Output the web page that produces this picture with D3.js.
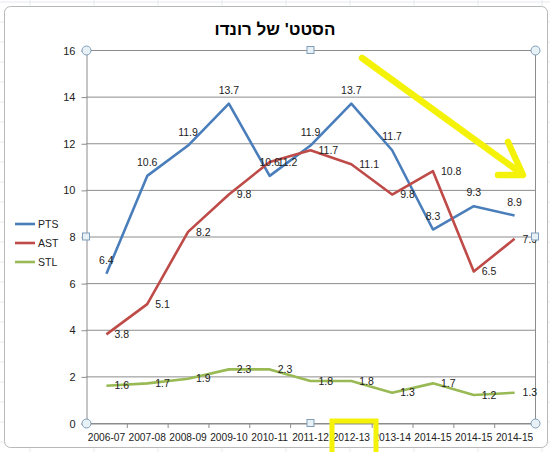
<!DOCTYPE html>
<html>
<head>
<meta charset="utf-8">
<script src="https://cdn.jsdelivr.net/npm/d3@7"></script>
<style>
html,body{margin:0;padding:0;background:#fff;}
svg{display:block;}
text{font-family:"Liberation Sans",Arial,sans-serif;}
</style>
</head>
<body>
<svg id="chart" width="550" height="452"></svg>
<script>
const title = "הסטט' של רונדו";
const categories = ["2006-07","2007-08","2008-09","2009-10","2010-11","2011-12","2012-13","2013-14","2014-15","2014-15","2014-15"];
const pts = [6.4,10.6,11.9,13.7,10.6,11.9,13.7,11.7,8.3,9.3,8.9];
const ast = [3.8,5.1,8.2,9.8,11.2,11.7,11.1,9.8,10.8,6.5,7.9];
const stl = [1.6,1.7,1.9,2.3,2.3,1.8,1.8,1.3,1.7,1.2,1.3];
const seriesNames = ["PTS","AST","STL"];
const seriesColors = ["#4a7ebb","#be4b48","#98b954"];
const yTicks = [0,2,4,6,8,10,12,14,16];

(function(){
const svg = d3.select("#chart");
const W = 550, H = 452;

// Excel-like background grid
const bg = svg.append("g");
bg.append("rect").attr("width",W).attr("height",H).attr("fill","#ffffff");
d3.range(0,W,64).forEach(xx=>bg.append("line").attr("x1",xx+30).attr("x2",xx+30).attr("y1",0).attr("y2",H).attr("stroke","#e6e9ee"));
d3.range(0,H,20).forEach(yy=>bg.append("line").attr("x1",0).attr("x2",W).attr("y1",yy+2).attr("y2",yy+2).attr("stroke","#e6e9ee"));

// chart area
svg.append("rect").attr("x",4.5).attr("y",6.5).attr("width",543).attr("height",441)
  .attr("rx",6).attr("fill","#fff").attr("stroke","#b8b8b8").attr("stroke-width",1);

const pl = 86, pr = 535, pt = 50, pb = 423;
const x = d3.scaleBand().domain(d3.range(categories.length)).range([pl,pr]);
const y = d3.scaleLinear().domain([0,16]).range([pb,pt]);
const cx = i => x(i) + x.bandwidth()/2;

// title
svg.append("text").attr("x",275).attr("y",35).attr("text-anchor","middle")
  .attr("font-size",17).attr("font-weight","bold").attr("fill","#000")
  .attr("font-family","'DejaVu Sans',Arial,sans-serif").text(title);

// gridlines
svg.append("g").selectAll("line").data(yTicks).join("line")
  .attr("x1",pl).attr("x2",pr).attr("y1",d=>y(d)+0.5).attr("y2",d=>y(d)+0.5)
  .attr("stroke","#8c8c8c").attr("stroke-width",1);

// y axis
const yAxis = d3.axisLeft(y).tickValues(yTicks).tickSize(5).tickPadding(6);
const gy = svg.append("g").attr("transform",`translate(${pl+0.5},0.5)`).call(yAxis);
gy.selectAll("path,line").attr("stroke","#8c8c8c");
gy.selectAll("text").attr("font-size",11).attr("fill","#222").attr("font-family","'Liberation Sans',Arial,sans-serif");

// right border of plot area
svg.append("line").attr("x1",pr+0.5).attr("x2",pr+0.5).attr("y1",pt).attr("y2",pb).attr("stroke","#8c8c8c");

// x axis
const xAxis = d3.axisBottom(x).tickFormat(i=>categories[i]).tickSize(0).tickPadding(10);
const gx = svg.append("g").attr("transform",`translate(0,${pb+0.5})`).call(xAxis);
gx.select("path").attr("stroke","#8c8c8c");
gx.selectAll("text").attr("font-size",10.2).attr("fill","#222").attr("font-family","'Liberation Sans',Arial,sans-serif");
// tick marks between categories
svg.append("g").selectAll("line").data(d3.range(categories.length+1)).join("line")
  .attr("x1",i=>(i<categories.length?x(i):pr)+0.5).attr("x2",i=>(i<categories.length?x(i):pr)+0.5)
  .attr("y1",pb).attr("y2",pb+5).attr("stroke","#8c8c8c");

// series
const data = [pts,ast,stl];
const line = d3.line().x((d,i)=>cx(i)).y(d=>y(d));
data.forEach((s,k)=>{
  svg.append("path").datum(s).attr("d",line).attr("fill","none")
    .attr("stroke",seriesColors[k]).attr("stroke-width",2.6).attr("stroke-linejoin","round");
});

// data labels
const lbl = svg.append("g").attr("font-size",10.5).attr("fill","#222").attr("font-family","'Liberation Sans',Arial,sans-serif");
pts.forEach((v,i)=>lbl.append("text").attr("x",cx(i)).attr("y",y(v)-10).attr("text-anchor","middle").text(v.toFixed(1)));
ast.forEach((v,i)=>lbl.append("text").attr("x",cx(i)+8).attr("y",y(v)).attr("dy","0.35em").text(v.toFixed(1)));
stl.forEach((v,i)=>lbl.append("text").attr("x",cx(i)+8).attr("y",y(v)).attr("dy","0.35em").text(v.toFixed(1)));

// legend
const lg = svg.append("g");
seriesNames.forEach((n,k)=>{
  const yy = 224 + k*19;
  lg.append("line").attr("x1",15).attr("x2",35).attr("y1",yy).attr("y2",yy).attr("stroke",seriesColors[k]).attr("stroke-width",2.6);
  lg.append("text").attr("x",38).attr("y",yy).attr("dy","0.35em").attr("font-size",10.5).attr("fill","#222").text(n);
});

// selection handles
const hc = "#7f9db9";
[[pl,pt],[pr,pt],[pl,pb],[pr,pb]].forEach(([a,b])=>
  svg.append("circle").attr("cx",a+0.5).attr("cy",b+0.5).attr("r",4.5).attr("fill","#e8f2f6").attr("stroke",hc));
[[(pl+pr)/2,pt],[(pl+pr)/2,pb],[pl,(pt+pb)/2],[pr,(pt+pb)/2]].forEach(([a,b])=>
  svg.append("rect").attr("x",a-3.5).attr("y",b-3.5).attr("width",7).attr("height",7).attr("fill","#e8f2f6").attr("stroke",hc));

// yellow annotations
const yc = "#f5f20a";
const ann = svg.append("g").attr("stroke",yc).attr("stroke-width",6.5).attr("stroke-linecap","round").attr("fill","none");
ann.append("line").attr("x1",362).attr("y1",58).attr("x2",522).attr("y2",174);
ann.append("polyline").attr("points","508,142 523,175 498,175").attr("stroke-linejoin","round");
svg.append("rect").attr("x",332).attr("y",421).attr("width",44).attr("height",34)
  .attr("fill","none").attr("stroke",yc).attr("stroke-width",5);
})();
</script>
</body>
</html>
